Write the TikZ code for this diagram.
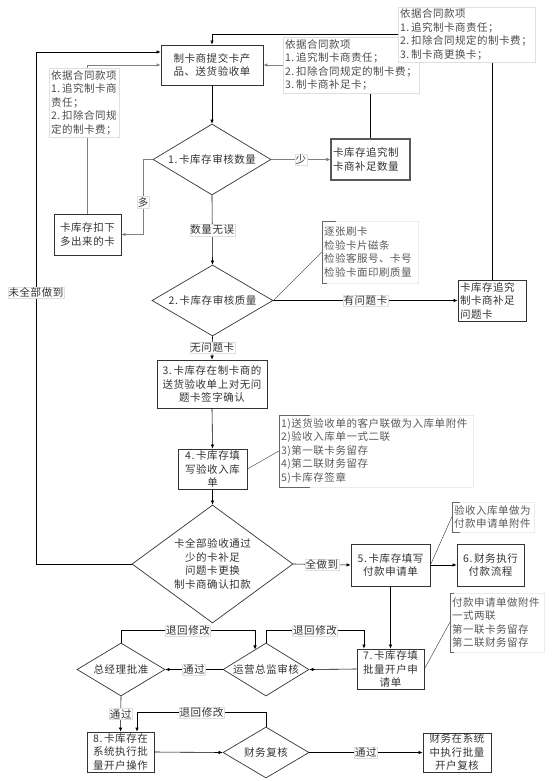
\documentclass[tikz,border=0pt]{standalone}
\usepackage{fontspec}
\setmainfont{Noto Sans CJK SC}[LetterSpace=5]
\usetikzlibrary{shapes.geometric,arrows.meta}
\begin{document}
\begin{tikzpicture}[x=1pt,y=-1pt,
  every node/.style={font=\fontsize{10.5}{13.5}\selectfont, text=black!80},
  box/.style={draw=black!80, line width=0.8pt, rectangle, inner sep=1pt, align=center},
  dia/.style={draw=black!80, line width=0.7pt, diamond, inner sep=0pt, align=center},
  note/.style={fill=white, draw=gray!25, line width=0.4pt, inner sep=1pt, align=left, text=black!70},
  ann/.style={draw=gray!15, line width=0.4pt, inner sep=1.5pt, align=left, text=black!65},
  lab/.style={fill=white, draw=gray!25, line width=0.3pt, inner sep=0.8pt},
  con/.style={draw=black, line width=0.6pt},
  arr/.style={con, -{Latex[length=4pt,width=3.5pt]}},
  gcon/.style={draw=gray, line width=0.9pt},
  garr/.style={gcon, -{Latex[length=4pt,width=3.5pt]}},
  brk/.style={draw=black!60, line width=0.6pt},
  lead/.style={draw=black!80, line width=0.4pt},
]
\useasboundingbox (0,0) rectangle (554,781);
% main boxes and decisions
\node[box, minimum width=102pt, minimum height=40pt] (top) at (212,65) {制卡商提交卡产\\品、送货验收单};
\node[dia, minimum width=118pt, minimum height=71pt, aspect=1.66] (d1) at (212,159.5) {1.\,卡库存审核数量};
\node[box, minimum width=79pt, minimum height=41pt, text width=75pt, align=left, draw=black!65, line width=1.1pt] (nbox) at (370.5,159.5) {卡库存追究制\\卡商补足数量};
\node[box, minimum width=67pt, minimum height=41pt] (xbox) at (87.5,234.5) {卡库存扣下\\多出来的卡};
\node[dia, minimum width=121pt, minimum height=71pt, aspect=1.7] (d2) at (212.5,300.5) {2.\,卡库存审核质量};
\node[box, minimum width=68pt, minimum height=41pt, text width=64pt, align=left] (qbox) at (492,300.5) {卡库存追究\\制卡商补足\\问题卡};
\node[box, minimum width=110pt, minimum height=48pt] (b3) at (212,384) {3.\,卡库存在制卡商的\\送货验收单上对无问\\题卡签字确认};
\node[box, minimum width=69pt, minimum height=40pt] (b4) at (212.5,469) {4.\,卡库存填\\写验收入库\\单};
\node[dia, minimum width=161pt, minimum height=118pt, aspect=1.36] (bigd) at (212.5,564) {卡全部验收通过\\少的卡补足\\问题卡更换\\制卡商确认扣款};
\node[box, minimum width=79pt, minimum height=42pt] (b5) at (390.5,565) {5.\,卡库存填写\\付款申请单};
\node[box, minimum width=67pt, minimum height=42pt] (b6) at (490.5,565) {6.\,财务执行\\付款流程};
\node[box, minimum width=67pt, minimum height=40pt] (b7) at (390.5,669) {7.\,卡库存填\\批量开户申\\请单};
\node[dia, minimum width=86pt, minimum height=53pt, aspect=1.62] (dy) at (266,669.5) {运营总监审核};
\node[dia, minimum width=88pt, minimum height=53pt, aspect=1.66] (dz) at (121,669.5) {总经理批准};
\node[box, minimum width=67pt, minimum height=40pt] (b8) at (120.5,752) {8.\,卡库存在\\系统执行批\\量开户操作};
\node[dia, minimum width=86pt, minimum height=51pt, aspect=1.69] (dc) at (266,752.5) {财务复核};
\node[box, minimum width=68pt, minimum height=39pt] (bf) at (457,752.5) {财务在系统\\中执行批量\\开户复核};
% helper coordinates
\coordinate (m1) at (143,159.5);
\coordinate (lp) at (36,564);
\coordinate (tin) at ([yshift=13pt]top.west);
\coordinate (dyin) at ([xshift=-11pt,yshift=-6.8pt]dy.north);
% connectors
\draw[arr] (top.south) -- (d1.north);
\draw[garr] (d1.east) -- node[lab]{少} (nbox.west);
\draw[garr] (d1.west) -- (m1) -- node[lab,pos=0.57]{多} (m1 |- xbox.east) -- (xbox.east);
\draw[arr] (d1.south) -- node[lab]{数量无误} (d2.north);
\draw[arr] (d2.east) -- node[lab]{有问题卡} (qbox.west);
\draw[arr] (d2.south) -- node[lab]{无问题卡} (b3.north);
\draw[arr] (b3.south) -- (b4.north);
\draw[arr] (b4.south) -- (bigd.north);
\draw[arr] (bigd.east) -- node[lab]{全做到} (b5.west);
\draw[arr] (b5.east) -- (b6.west);
\draw[arr] (b5.south) -- (b7.north);
\draw[arr] (b7.west) -- (dy.east);
\draw[arr] (dy.north) -- ++(0,-12) -| node[lab,pos=0.25]{退回修改} ([xshift=-26.5pt]b7.north);
\draw[arr] (dy.west) -- node[lab]{通过} (dz.east);
\draw[arr] (dz.north) -- ++(0,-12) -| node[lab,pos=0.25]{退回修改} (dyin);
\draw[arr] (dz.south) -- node[lab]{通过} (b8.north);
\draw[arr] (b8.east) -- (dc.west);
\draw[arr] (dc.north) -- ++(0,-14) -| node[lab,pos=0.25]{退回修改} ([xshift=16.5pt]b8.north);
\draw[arr] (dc.east) -- node[lab]{通过} (bf.west);
\draw[arr] (bigd.west) -- (lp) -- node[lab,pos=0.53]{未全部做到} (lp |- tin) -- (tin);
% contract notes on the return paths
\draw[gcon] (xbox.north) -- (xbox.north |- 87.5,100);
\draw[con] (nbox.north) -- (nbox.north |- 370,80);
\draw[con] (qbox.north) -- (qbox.north |- 492,40);
\node[note, minimum width=136pt, minimum height=56pt, text width=132pt] (n2) at (351,65) {依据合同款项\\1.\,追究制卡商责任；\\2.\,扣除合同规定的制卡费；\\3.\,制卡商补足卡；};
\node[note, minimum width=137pt, minimum height=55pt, text width=133pt] (n1) at (466.5,34.5) {依据合同款项\\1.\,追究制卡商责任；\\2.\,扣除合同规定的制卡费；\\3.\,制卡商更换卡；};
\node[note, minimum width=70pt, minimum height=69pt, text width=66pt] (n3) at (84,102.5) {依据合同款项\\1.\,追究制卡商\\责任；\\2.\,扣除合同规\\定的制卡费；};
\draw[garr] (xbox.north |- n3.north) |- (top.west);
\draw[garr] (n2.west) -- (top.east);
\draw[arr] (n1.west) -| (top.north);
% bracket annotations
\node[ann, minimum width=96pt, minimum height=62pt, text width=92pt] (a2) at (370,252) {逐张刷卡\\检验卡片磁条\\检验客服号、卡号\\检验卡面印刷质量};
\node[ann, minimum width=194pt, minimum height=72pt, text width=190pt] (a4) at (376,451) {1)送货验收单的客户联做为入库单附件\\2)验收入库单一式二联\\3)第一联卡务留存\\4)第二联财务留存\\5)卡库存签章};
\node[ann, minimum width=82pt, minimum height=30pt, text width=78pt] (a5) at (493,517) {验收入库单做为\\付款申请单附件};
\node[ann, minimum width=94pt, minimum height=59pt, text width=90pt] (a7) at (497,622.5) {付款申请单做附件\\一式两联\\第一联卡务留存\\第二联财务留存};
\draw[brk] ([xshift=14pt]a2.north west) -- (a2.north west) -- (a2.south west) -- ([xshift=5pt]a2.south west);
\draw[brk] ([xshift=31pt]a4.north west) -- (a4.north west) -- (a4.south west) -- ([xshift=31pt]a4.south west);
\draw[brk] ([xshift=8pt]a5.north west) -- (a5.north west) -- (a5.south west) -- ([xshift=8pt]a5.south west);
\draw[brk] ([xshift=4pt]a7.north west) -- (a7.north west) -- (a7.south west) -- ([xshift=4pt]a7.south west);
\draw[lead] (d2.east) -- (a2.west);
\draw[lead] (b4.east) -- (a4.west);
\draw[lead] (b5.east) -- (a5.west);
\draw[lead] (b7.east) -- (a7.west);
\end{tikzpicture}
\end{document}
